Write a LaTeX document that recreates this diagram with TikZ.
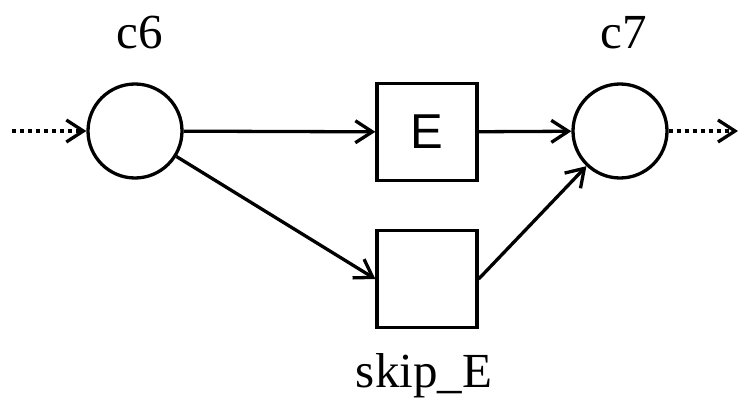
\documentclass[tikz,border=0pt]{standalone}
\usepackage{fontspec}
\setmainfont{Liberation Serif}
\newfontfamily\heltext{Liberation Sans}
\usetikzlibrary{arrows.meta}
\begin{document}
\begin{tikzpicture}[x=1pt,y=-1pt,
  line width=3.3pt,
  place/.style={draw,circle,minimum size=94pt,inner sep=0pt},
  trans/.style={draw,rectangle,minimum width=100pt,minimum height=97pt,inner sep=0pt},
  arc/.style={-{Straight Barb[length=17pt,width=22pt,line width=3.3pt]}},
  dotarc/.style={arc,dash pattern=on 4pt off 4pt},
  lbl/.style={font=\fontsize{49}{52}\selectfont,anchor=base,inner sep=0pt}
]
\useasboundingbox (0,0) rectangle (743,401);
\node[place] (c6) at (135,131) {};
\node[place] (c7) at (620,131) {};
\node[trans] (E) at (427,132) {\heltext\fontsize{49}{50}\selectfont E};
\node[trans] (skip) at (427,279) {};
\node[lbl] (c6l) at (140,49) {c6};
\node[lbl] (c7l) at (624,49) {c7};
\node[lbl] (skipl) at (424,387) {skip\_E};
\coordinate (in) at (12,131);
\coordinate (out) at (738,131);
\draw[dotarc] (in) -- (c6);
\draw[dotarc] (c7) -- (out);
\draw[arc] (c6) -- (E);
\draw[arc] (E) -- (c7);
\draw[arc] (c6) -- (skip.west);
\draw[arc] (skip.east) -- (c7);
\end{tikzpicture}
\end{document}
